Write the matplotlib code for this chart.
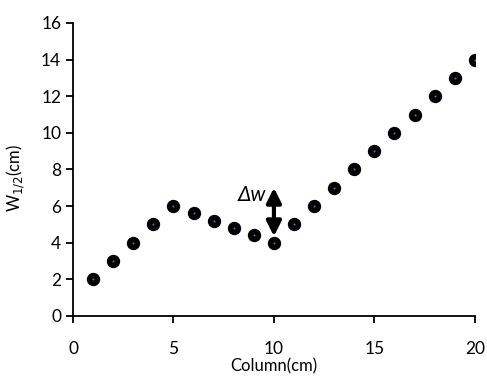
import numpy as np
import matplotlib
matplotlib.use('Agg')
import matplotlib.pyplot as plt

# data
column = [1, 2, 3, 4, 5, 6, 7, 8, 9, 10, 11, 12, 13, 14, 15, 16, 17, 18, 19, 20]
width = [2, 3, 4, 5, 6, 5.6, 5.2, 4.8, 4.4, 4, 5, 6, 7, 8, 9, 10, 11, 12, 13, 14]
arrow_x = 10
arrow_y = [4.35, 7.0]

plt.rcParams['font.family'] = ['Lato', 'DejaVu Sans']

fig = plt.figure(figsize=(4.87, 3.77), dpi=100)
ax = fig.add_axes([0.150, 0.162, 0.825, 0.777])

ax.plot(column, width, 'o', ms=8.4, mfc='black', mec='black', mew=1.2, ls='none')
ax.plot(column, width, 'o', ms=1.4, mfc='#4a7fc0', mec='none', ls='none')

ax.annotate('', xy=(arrow_x, arrow_y[1]), xytext=(arrow_x, arrow_y[0]),
            arrowprops=dict(arrowstyle='<|-|>', lw=3, color='black',
                            mutation_scale=22, shrinkA=0, shrinkB=0))
ax.text(arrow_x - 0.4, 6.6, 'Δw', fontsize=15, ha='right', va='center',
        fontstyle='italic')

ax.set_xlim(0, 20)
ax.set_ylim(0, 16)
ax.set_xticks([0, 5, 10, 15, 20])
ax.set_yticks(np.arange(0, 17, 2))
ax.spines['top'].set_visible(False)
ax.spines['right'].set_visible(False)
ax.spines['left'].set_linewidth(1.3)
ax.spines['bottom'].set_linewidth(1.3)
ax.tick_params(axis='both', direction='out', length=5, width=1.3, labelsize=12.5)
ax.tick_params(axis='x', pad=13)
ax.set_xlabel('Column(cm)', fontsize=12, labelpad=1)
ax.set_ylabel(r'W$_{1/2}$(cm)', fontsize=12, labelpad=6)
ax.yaxis.set_label_coords(-0.115, 0.47)

fig.savefig('out.png', dpi=100)
